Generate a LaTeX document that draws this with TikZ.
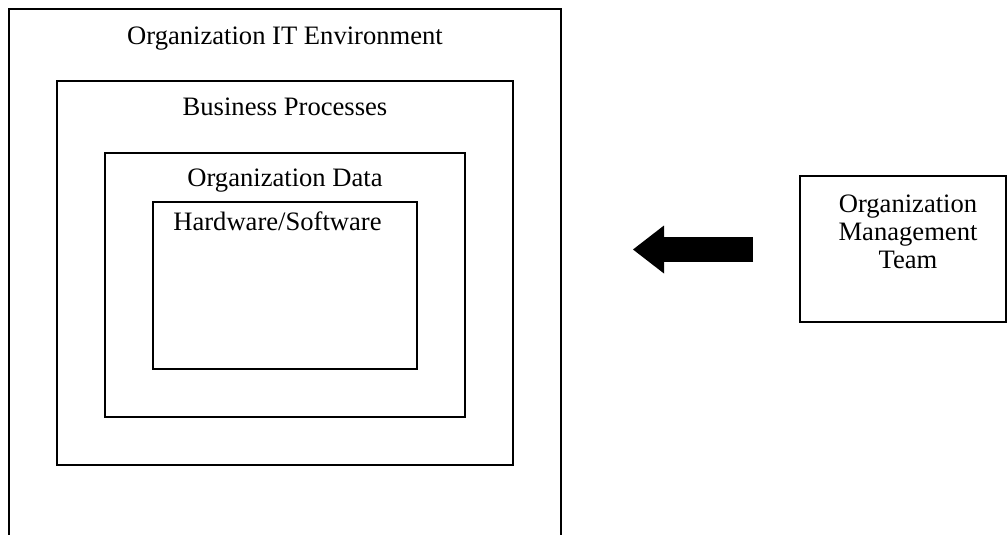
\documentclass[tikz,border=0pt]{standalone}
\usepackage{fontspec}
\setmainfont{Liberation Serif}
\usetikzlibrary{arrows.meta, positioning}

\begin{document}
\begin{tikzpicture}[
  x=0.5pt, y=-0.5pt,
  box/.style={draw, line width=1pt, inner sep=0pt},
  lbl/.style={font=\fontsize{13.3}{14}\selectfont, align=center, inner sep=0pt}
]
\useasboundingbox (0,0) rectangle (1007,535);
\clip (0,0) rectangle (1007,535);
% nested boxes
\node[box, minimum width=276pt, minimum height=295.5pt] (env) at (285,304.5) {};
\node[box, minimum width=228pt, minimum height=192pt] (bproc) at (285,273) {};
\node[box, minimum width=180pt, minimum height=132pt] (odata) at (285,285) {};
\node[box, minimum width=132pt, minimum height=83.5pt] (hwsw) at (285,285.5) {};
\node[lbl, anchor=base] (envlbl) at ([yshift=-18.5pt]env.north) {Organization IT Environment};
\node[lbl, anchor=base] (bproclbl) at ([yshift=-18pt]bproc.north) {Business Processes};
\node[lbl, anchor=base] (odatalbl) at ([yshift=-17pt]odata.north) {Organization Data};
\node[lbl, anchor=base] (hwswlbl) at ([xshift=-3.75pt, yshift=-14.5pt]hwsw.north) {Hardware/Software};
% management team
\node[box, minimum width=103pt, minimum height=73pt] (mgmt) at (903,249) {};
\node[lbl, anchor=north] (mgmtlbl) at ([xshift=2.5pt, yshift=-9.5pt]mgmt.north) {Organization\\Management\\Team};
\coordinate (tail) at ([xshift=-23pt, yshift=-0.25pt]mgmt.west);
\coordinate (tip) at ([xshift=35.5pt]env.east |- tail);
\draw[line width=12.5pt, -{Triangle[length=15.5pt, width=24pt, line width=0pt]}] (tail) -- (tip);
\end{tikzpicture}
\end{document}
